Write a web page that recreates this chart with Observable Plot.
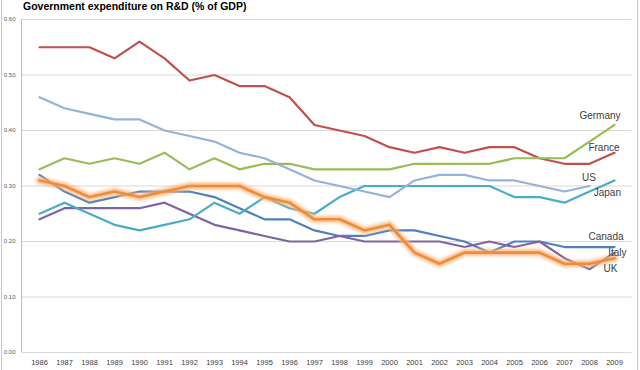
<!DOCTYPE html>
<html><head><meta charset="utf-8">
<script src="https://cdn.jsdelivr.net/npm/d3@7"></script>
<script src="https://cdn.jsdelivr.net/npm/@observablehq/plot@0.6"></script>
<style>
body{margin:0;background:#fff;}
#wrap{position:relative;width:640px;height:370px;overflow:hidden;font-family:"Liberation Sans",Arial,sans-serif;background:#fff;}
#border{position:absolute;left:1px;top:0;width:637px;height:370px;border-left:1px solid #c8c8c8;border-right:1px solid #c8c8c8;box-sizing:border-box;pointer-events:none}
#title{height:13px;line-height:13px;font-size:10.5px;font-weight:bold;color:#000;padding-left:23px;white-space:nowrap;}
#chart svg{display:block;}
</style></head>
<body><div id="wrap"><div id="title">Government expenditure on R&amp;D (% of GDP)</div><div id="chart"></div><div id="border"></div></div>
<script>
const years = [1986,1987,1988,1989,1990,1991,1992,1993,1994,1995,1996,1997,1998,1999,2000,2001,2002,2003,2004,2005,2006,2007,2008,2009];
const yTicks = [0, 0.1, 0.2, 0.3, 0.4, 0.5, 0.6];
const france  = [0.55,0.55,0.55,0.53,0.56,0.53,0.49,0.50,0.48,0.48,0.46,0.41,0.40,0.39,0.37,0.36,0.37,0.36,0.37,0.37,0.35,0.34,0.34,0.36];
const us      = [0.46,0.44,0.43,0.42,0.42,0.40,0.39,0.38,0.36,0.35,0.33,0.31,0.30,0.29,0.28,0.31,0.32,0.32,0.31,0.31,0.30,0.29,0.30,null];
const germany = [0.33,0.35,0.34,0.35,0.34,0.36,0.33,0.35,0.33,0.34,0.34,0.33,0.33,0.33,0.33,0.34,0.34,0.34,0.34,0.35,0.35,0.35,0.38,0.41];
const japan   = [0.25,0.27,0.25,0.23,0.22,0.23,0.24,0.27,0.25,0.28,0.26,0.25,0.28,0.30,0.30,0.30,0.30,0.30,0.30,0.28,0.28,0.27,0.29,0.31];
const canada  = [0.32,0.29,0.27,0.28,0.29,0.29,0.29,0.28,0.26,0.24,0.24,0.22,0.21,0.21,0.22,0.22,0.21,0.20,0.18,0.20,0.20,0.19,0.19,0.19];
const italy   = [0.24,0.26,0.26,0.26,0.26,0.27,0.25,0.23,0.22,0.21,0.20,0.20,0.21,0.20,0.20,0.20,0.20,0.19,0.20,0.19,0.20,0.17,0.15,0.18];
const uk      = [0.31,0.30,0.28,0.29,0.28,0.29,0.30,0.30,0.30,0.28,0.27,0.24,0.24,0.22,0.23,0.18,0.16,0.18,0.18,0.18,0.18,0.16,0.16,0.17];

const seriesNames = ["Canada","France","Germany","Italy","Japan","US","UK"];
const seriesValues = {Canada: canada, France: france, Germany: germany, Italy: italy, Japan: japan, US: us, UK: uk};

// styling
const colors = {Canada:"#4F81BD", France:"#C0504D", Germany:"#9BBB59", Italy:"#8064A2", Japan:"#4BACC6", US:"#95B3D7", UK:"#F08C38"};
const labelOffsets = {Germany:[6,-9], France:[5,-5], US:[6.5,-8.5], Japan:[6.5,12.5], Canada:[9,-10.5], Italy:[12,0.5], UK:[3,10.8]};

const table = s => years.map((yr, i) => ({name: s, year: yr, value: seriesValues[s][i]})).filter(d => d.value != null);

const marks = [];
marks.push(Plot.ruleY(yTicks, {stroke: "#d9d9d9", strokeWidth: 1}));
marks.push((index, scales, values, dims) => {
  const x = dims.marginLeft;
  return d3.create("svg:line")
    .attr("x1", x).attr("x2", x)
    .attr("y1", dims.marginTop).attr("y2", dims.height - dims.marginBottom)
    .attr("stroke", "#bfbfbf").attr("stroke-width", 1).node();
});
for (const s of seriesNames) {
  const d = table(s);
  if (s === "UK") {
    marks.push(Plot.lineY(d, {x: "year", y: "value", stroke: "#F9B57C", strokeWidth: 11, strokeOpacity: 0.18, strokeLinejoin: "round", strokeLinecap: "round"}));
    marks.push(Plot.lineY(d, {x: "year", y: "value", stroke: "#F9B57C", strokeWidth: 8, strokeOpacity: 0.3, strokeLinejoin: "round", strokeLinecap: "round"}));
    marks.push(Plot.lineY(d, {x: "year", y: "value", stroke: "#F7B07A", strokeWidth: 5.5, strokeOpacity: 0.45, strokeLinejoin: "round", strokeLinecap: "round"}));
    marks.push(Plot.lineY(d, {x: "year", y: "value", stroke: colors[s], strokeWidth: 2.6, strokeLinejoin: "round"}));
  } else {
    marks.push(Plot.lineY(d, {x: "year", y: "value", stroke: colors[s], strokeWidth: 2.2, strokeLinejoin: "round"}));
  }
}
for (const s of seriesNames) {
  const d = table(s);
  const last = d[d.length - 1];
  const [dx, dy] = labelOffsets[s];
  marks.push(Plot.text([last], {x: "year", y: "value", text: () => s, textAnchor: "end", dx, dy, fontSize: 10, fill: "#404040"}));
}
marks.push(Plot.axisY(yTicks, {tickSize: 0, tickPadding: 6.5, tickFormat: d3.format(".2f"), fontSize: 6, fill: "#595959", label: null}));
marks.push(Plot.axisX(years, {tickSize: 0, tickPadding: 7, tickFormat: d => String(d), fontSize: 7.5, fill: "#404040", label: null}));

const chart = Plot.plot({
  width: 640,
  height: 357,
  marginTop: 6,
  marginBottom: 18,
  marginLeft: 21.5,
  marginRight: 8.5,
  style: {fontFamily: "'Liberation Sans', Arial, sans-serif", background: "transparent", overflow: "visible"},
  x: {type: "point", domain: years, padding: 0.5},
  y: {domain: [0, 0.6]},
  marks
});
document.getElementById("chart").appendChild(chart);
</script>
</body></html>
